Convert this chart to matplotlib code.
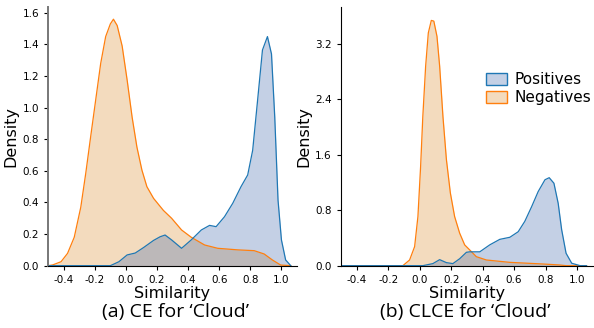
import numpy as np
import matplotlib.pyplot as plt
from matplotlib.patches import Patch

# curve values (x = similarity, y = density)
ce_neg_x = [-0.50, -0.47, -0.417, -0.375, -0.332, -0.29, -0.258, -0.226, -0.194, -0.162, -0.13,
            -0.10, -0.08, -0.056, -0.024, 0.008, 0.04, 0.071, 0.103, 0.135, 0.178, 0.241,
            0.294, 0.358, 0.42, 0.506, 0.59, 0.72, 0.825, 0.889, 0.942, 0.995, 1.06]
ce_neg_y = [0.0, 0.005, 0.025, 0.078, 0.18, 0.37, 0.585, 0.82, 1.05, 1.28, 1.45,
            1.53, 1.56, 1.52, 1.39, 1.175, 0.94, 0.75, 0.605, 0.50, 0.426, 0.35,
            0.30, 0.226, 0.18, 0.131, 0.11, 0.10, 0.095, 0.074, 0.036, 0.004, 0.0]

ce_pos_x = [-0.50, -0.10, -0.045, 0.008, 0.06, 0.114, 0.178, 0.22, 0.252, 0.294, 0.358,
            0.42, 0.485, 0.538, 0.58, 0.634, 0.687, 0.74, 0.783, 0.815, 0.847, 0.878,
            0.91, 0.936, 0.957, 0.978, 1.0, 1.027, 1.06]
ce_pos_y = [0.0, 0.0, 0.025, 0.068, 0.08, 0.115, 0.16, 0.183, 0.194, 0.163, 0.11,
            0.163, 0.226, 0.255, 0.247, 0.31, 0.395, 0.50, 0.574, 0.73, 1.05, 1.365,
            1.45, 1.34, 0.94, 0.415, 0.163, 0.036, 0.0]

clce_neg_x = [-0.50, -0.107, -0.064, -0.032, -0.011, 0.006, 0.02, 0.038, 0.055, 0.074, 0.09,
              0.11, 0.127, 0.148, 0.17, 0.195, 0.222, 0.254, 0.286, 0.318, 0.36, 0.424,
              0.573, 0.785, 0.89, 0.93, 1.06]
clce_neg_y = [0.0, 0.0, 0.082, 0.275, 0.71, 1.43, 2.15, 2.88, 3.36, 3.54, 3.53,
              3.31, 2.88, 2.15, 1.53, 1.05, 0.71, 0.47, 0.30, 0.227, 0.13, 0.082,
              0.048, 0.024, 0.01, 0.0, 0.0]

clce_pos_x = [-0.50, 0.02, 0.084, 0.127, 0.17, 0.211, 0.254, 0.297, 0.318, 0.382, 0.445,
              0.509, 0.573, 0.626, 0.668, 0.711, 0.753, 0.796, 0.823, 0.853, 0.88, 0.902,
              0.93, 0.966, 1.02, 1.06]
clce_pos_y = [0.0, 0.0, 0.03, 0.087, 0.044, 0.03, 0.10, 0.193, 0.20, 0.20, 0.30,
              0.38, 0.41, 0.49, 0.64, 0.85, 1.07, 1.24, 1.27, 1.19, 0.90, 0.52,
              0.18, 0.035, 0.0, 0.0]

ce_yticks = [0.0, 0.2, 0.4, 0.6, 0.8, 1.0, 1.2, 1.4, 1.6]
clce_yticks = [0.0, 0.8, 1.6, 2.4, 3.2]
xticks = [-0.4, -0.2, 0.0, 0.2, 0.4, 0.6, 0.8, 1.0]
captions = ["(a) CE for \u2018Cloud\u2019", "(b) CLCE for \u2018Cloud\u2019"]

BLUE = "#1f77b4"
ORANGE = "#ff7f0e"
BLUE_FILL = "#4c72b0"
ORANGE_FILL = "#da8a2a"

fig = plt.figure(figsize=(5.94, 3.28), dpi=100)
ax1 = fig.add_axes([0.081, 0.19, 0.419, 0.79])
ax2 = fig.add_axes([0.574, 0.19, 0.424, 0.79])

panels = [
    (ax1, ce_pos_x, ce_pos_y, ce_neg_x, ce_neg_y, ce_yticks, 1.64),
    (ax2, clce_pos_x, clce_pos_y, clce_neg_x, clce_neg_y, clce_yticks, 3.74),
]

for ax, px, py, nx, ny, yt, ytop in panels:
    ax.fill_between(nx, ny, color=ORANGE_FILL, alpha=0.3, lw=0)
    ax.plot(nx, ny, color=ORANGE, lw=0.9)
    ax.fill_between(px, py, color=BLUE_FILL, alpha=0.33, lw=0)
    ax.plot(px, py, color=BLUE, lw=0.9)
    ax.set_xlim(-0.5, 1.1)
    ax.set_ylim(0, ytop)
    ax.set_xticks(xticks)
    ax.set_xticklabels(["%.1f" % v for v in xticks])
    ax.set_yticks(yt)
    ax.set_yticklabels(["%.1f" % v for v in yt])
    ax.tick_params(labelsize=7.5, length=3, width=0.8)
    ax.set_xlabel("Similarity", fontsize=11.5, labelpad=1)
    ax.set_ylabel("Density", fontsize=11.5, labelpad=3)
    ax.spines["top"].set_visible(False)
    ax.spines["right"].set_visible(False)

ax1.spines["left"].set_color("#777777")
ax1.spines["left"].set_linewidth(1.4)

handles = [Patch(facecolor=(0.30, 0.45, 0.69, 0.33), edgecolor=BLUE, label="Positives"),
           Patch(facecolor=(0.85, 0.54, 0.16, 0.3), edgecolor=ORANGE, label="Negatives")]
ax2.legend(handles=handles, loc="upper right", bbox_to_anchor=(1.02, 0.77), frameon=False,
           fontsize=11, handlelength=1.4, handleheight=0.8, handletextpad=0.5,
           labelspacing=0.2, borderaxespad=0)

fig.text(0.295, 0.05, captions[0], ha="center", va="center", fontsize=14, family="Open Sans")
fig.text(0.783, 0.05, captions[1], ha="center", va="center", fontsize=14, family="Open Sans")

fig.savefig("out.png", dpi=100)
